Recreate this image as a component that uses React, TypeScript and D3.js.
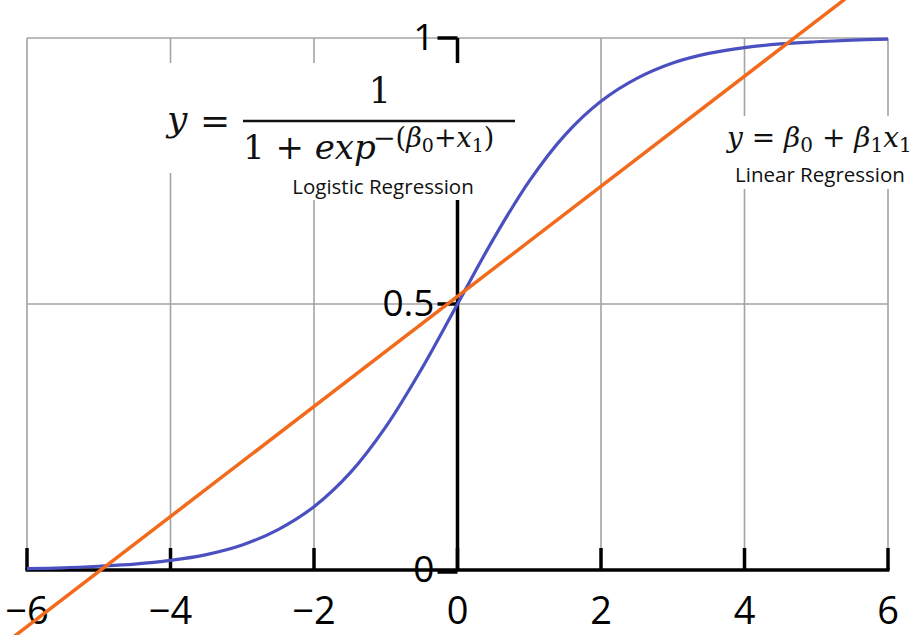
import React, { useEffect, useRef } from "react";
import * as d3 from "d3";

// logistic curve
const logX = [-6, -5.5, -5, -4.5, -4, -3.5, -3, -2.5, -2, -1.5, -1, -0.5, 0, 0.5, 1, 1.5, 2, 2.5, 3, 3.5, 4, 4.5, 5, 5.5, 6];
const logY = [0.0025, 0.004, 0.007, 0.011, 0.018, 0.029, 0.047, 0.076, 0.119, 0.182, 0.269, 0.378, 0.5, 0.622, 0.731, 0.818, 0.881, 0.924, 0.953, 0.971, 0.982, 0.989, 0.993, 0.996, 0.998];

// linear regression line end points
const linX = [-6.2, 5.4];
const linY = [-0.127, 1.073];

const xTicks = [-6, -4, -2, 0, 2, 4, 6];
const yTicks = [0, 0.5, 1];
const yTickLabels = ["0", "0.5", "1"];

const App = () => {
  const ref = useRef(null);

  useEffect(() => {
    const svg = d3.select(ref.current);
    svg.selectAll("*").remove();

    const x = d3.scaleLinear().domain([-6, 6]).range([27, 888]);
    const y = d3.scaleLinear().domain([0, 1]).range([570, 38]);
    const grid = "#a3a3a3";
    const tickLen = 22;

    // gray grid
    svg.selectAll(".vgrid")
      .data(xTicks)
      .enter()
      .append("line")
      .attr("x1", d => x(d)).attr("x2", d => x(d))
      .attr("y1", y(1)).attr("y2", y(0) - tickLen)
      .attr("stroke", grid).attr("stroke-width", 1.6);

    svg.selectAll(".hgrid")
      .data(yTicks.filter(d => d > 0))
      .enter()
      .append("line")
      .attr("x1", x(-6)).attr("x2", x(6))
      .attr("y1", d => y(d)).attr("y2", d => y(d))
      .attr("stroke", grid).attr("stroke-width", 1.6);

    // x axis
    svg.append("line")
      .attr("x1", x(-6) - 1.5).attr("x2", x(6) + 1.5)
      .attr("y1", y(0)).attr("y2", y(0))
      .attr("stroke", "#000").attr("stroke-width", 3.5);

    svg.selectAll(".xtick")
      .data(xTicks)
      .enter()
      .append("line")
      .attr("x1", d => x(d)).attr("x2", d => x(d))
      .attr("y1", y(0)).attr("y2", y(0) - tickLen)
      .attr("stroke", "#000").attr("stroke-width", 3.5);

    svg.selectAll(".xlab")
      .data(xTicks)
      .enter()
      .append("text")
      .attr("x", d => x(d))
      .attr("y", 624)
      .attr("text-anchor", "middle")
      .attr("font-family", "'Open Sans', sans-serif")
      .attr("font-size", 38)
      .attr("fill", "#000")
      .text(d => (d < 0 ? "\u2212" + Math.abs(d) : String(d)));

    // y axis
    svg.append("line")
      .attr("x1", x(0)).attr("x2", x(0))
      .attr("y1", y(1)).attr("y2", y(0))
      .attr("stroke", "#000").attr("stroke-width", 3.5);

    svg.selectAll(".ytick")
      .data(yTicks)
      .enter()
      .append("line")
      .attr("x1", x(0) - 20).attr("x2", x(0))
      .attr("y1", d => y(d) + (d === 0 ? 2 : 0)).attr("y2", d => y(d) + (d === 0 ? 2 : 0))
      .attr("stroke", "#000").attr("stroke-width", 3.5);

    svg.selectAll(".ylab")
      .data(yTicks)
      .enter()
      .append("text")
      .attr("x", x(0) - 23)
      .attr("y", d => y(d) + 12)
      .attr("text-anchor", "end")
      .attr("font-family", "'Open Sans', sans-serif")
      .attr("font-size", 37)
      .attr("fill", "#000")
      .text((d, i) => yTickLabels[i]);

    // white boxes behind the formulas
    svg.append("rect").attr("x", 160).attr("y", 63).attr("width", 368).attr("height", 110).attr("fill", "#fff");
    svg.append("rect").attr("x", 282).attr("y", 173).attr("width", 196).attr("height", 27).attr("fill", "#fff");
    svg.append("rect").attr("x", 722).attr("y", 116).attr("width", 198).attr("height", 73).attr("fill", "#fff");

    const serif = "'DejaVu Serif', serif";
    const sans = "'Open Sans', 'Liberation Sans', sans-serif";

    // logistic formula
    const f1 = svg.append("g").attr("font-family", serif).attr("fill", "#111");
    f1.append("text").attr("x", 167).attr("y", 131).attr("font-size", 36)
      .attr("font-style", "italic").text("y");
    f1.append("text").attr("x", 200).attr("y", 133).attr("font-size", 36).text("=");
    f1.append("text").attr("x", 380).attr("y", 103).attr("font-size", 35).attr("text-anchor", "middle").text("1");
    f1.append("line").attr("x1", 243).attr("x2", 515).attr("y1", 121).attr("y2", 121)
      .attr("stroke", "#111").attr("stroke-width", 2.5);
    const den = f1.append("text").attr("x", 243).attr("y", 159).attr("font-size", 34);
    den.append("tspan").text("1 + ");
    den.append("tspan").attr("font-style", "italic").text("exp");
    const sup = f1.append("text").attr("x", 373).attr("y", 147).attr("font-size", 27);
    sup.append("tspan").text("\u2212(");
    sup.append("tspan").attr("font-style", "italic").text("\u03b2");
    sup.append("tspan").attr("font-size", 19).attr("dy", 5).text("0");
    sup.append("tspan").attr("dy", -5).text("+");
    sup.append("tspan").attr("font-style", "italic").text("x");
    sup.append("tspan").attr("font-size", 19).attr("dy", 5).text("1");
    sup.append("tspan").attr("dy", -5).text(")");
    svg.append("text").attr("x", 383).attr("y", 194).attr("text-anchor", "middle")
      .attr("font-family", sans).attr("font-size", 20.5).attr("fill", "#111").text("Logistic Regression");

    // linear formula
    const f2 = svg.append("text").attr("x", 727).attr("y", 147).attr("font-family", serif)
      .attr("font-size", 28).attr("fill", "#111");
    f2.append("tspan").attr("font-style", "italic").text("y");
    f2.append("tspan").text(" = ");
    f2.append("tspan").attr("font-style", "italic").text("\u03b2");
    f2.append("tspan").attr("font-size", 20).attr("dy", 5).text("0");
    f2.append("tspan").attr("dy", -5).text(" + ");
    f2.append("tspan").attr("font-style", "italic").text("\u03b2");
    f2.append("tspan").attr("font-size", 20).attr("dy", 5).text("1");
    f2.append("tspan").attr("dy", -5).attr("font-style", "italic").text("x");
    f2.append("tspan").attr("font-size", 20).attr("dy", 5).text("1");
    svg.append("text").attr("x", 820).attr("y", 182).attr("text-anchor", "middle")
      .attr("font-family", sans).attr("font-size", 20.5).attr("fill", "#111").text("Linear Regression");

    // curves
    const line = d3.line<number>()
      .x((d, i) => x(logX[i]))
      .y(d => y(d))
      .curve(d3.curveCatmullRom);

    svg.append("path")
      .attr("d", line(logY))
      .attr("fill", "none")
      .attr("stroke", "#4a50c0")
      .attr("stroke-width", 3.2);

    const lin = d3.line<number>()
      .x((d, i) => x(linX[i]))
      .y(d => y(d));

    svg.append("path")
      .attr("d", lin(linY))
      .attr("fill", "none")
      .attr("stroke", "#f26a1b")
      .attr("stroke-width", 3.5);
  }, []);

  return (
    <svg
      ref={ref}
      width={920}
      height={635}
      style={{ position: "absolute", left: 0, top: 0, background: "#fff" }}
    ></svg>
  );
};

export default App;
